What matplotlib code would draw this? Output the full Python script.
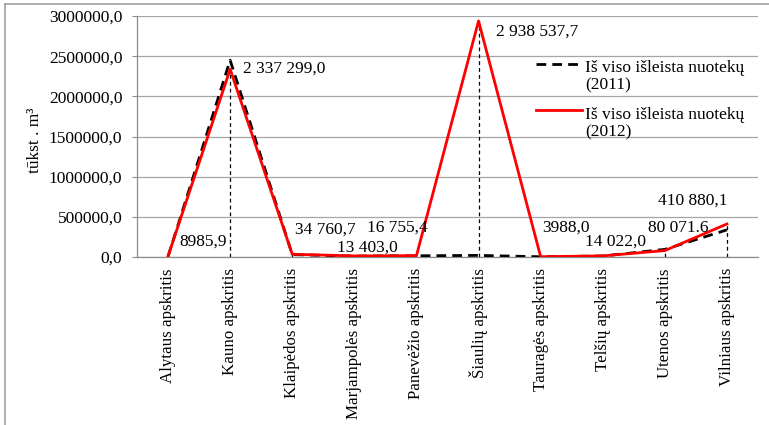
import matplotlib
matplotlib.use("Agg")
import matplotlib.pyplot as plt
from matplotlib.lines import Line2D
from matplotlib.ticker import FuncFormatter

plt.rcParams['font.family'] = ['Liberation Serif', 'DejaVu Serif']

apskritys = ['Alytaus apskritis', 'Kauno apskritis', 'Klaipėdos apskritis',
             'Marjampolės apskritis', 'Panevėžio apskritis', 'Šiaulių apskritis',
             'Tauragės apskritis', 'Telšių apskritis', 'Utenos apskritis',
             'Vilniaus apskritis']

nuotekos_2011 = [7000.0, 2450000.0, 30000.0, 11000.0, 15000.0, 20000.0,
                 3000.0, 12000.0, 95000.0, 338000.0]
nuotekos_2012 = [8985.9, 2337299.0, 34760.7, 13403.0, 16755.4, 2938537.7,
                 3988.0, 14022.0, 80071.6, 410880.1]
zymes_2012 = ['8985,9', '2 337 299,0', '34 760,7', '13 403,0', '16 755,4',
              '2 938 537,7', '3988,0', '14 022,0', '80 071.6', '410 880,1']

# postūmiai (pikseliais) reikšmių užrašams
zymiu_poslinkiai = [(11, 15, 'left'), (13, 1, 'left'), (33, 25, 'center'),
                    (13, 8, 'center'), (-19, 28, 'center'), (17, -11, 'left'),
                    (25, 29, 'center'), (13, 14, 'center'), (13, 23, 'center'),
                    (-34, 23, 'center')]

W, H = 769, 425
fig = plt.figure(figsize=(W / 100, H / 100), dpi=100)
ax = fig.add_axes([137 / W, 1 - 257 / H, (758 - 137) / W, (257 - 16) / H])

x = list(range(len(apskritys)))
fs = 12.5

# krintančios linijos nuo didžiausios reikšmės iki ašies
virsus = [max(a, b) for a, b in zip(nuotekos_2011, nuotekos_2012)]
ax.vlines(x, 0, virsus, colors='black', linestyles=(0, (3, 2.5)), linewidth=0.9, zorder=2)

ax.plot(x, nuotekos_2011, color='black', linestyle=(0, (3.5, 2.2)), linewidth=2.0, zorder=3)
ax.plot(x, nuotekos_2012, color='#ff0000', linewidth=2.0, zorder=4)

for xi, v, t, (dx, dy, ha) in zip(x, nuotekos_2012, zymes_2012, zymiu_poslinkiai):
    ax.annotate(t, (xi, v), xytext=(dx, dy), textcoords='offset pixels',
                ha=ha, va='center', fontsize=fs, zorder=5)

ax.set_xlim(-0.5, len(apskritys) - 0.5)
ax.set_ylim(0, 3000000)
ax.set_yticks(range(0, 3000001, 500000))
ax.yaxis.set_major_formatter(FuncFormatter(lambda v, p: f'{v:.1f}'.replace('.', ',')))
ax.set_xticks(x)
ax.set_xticklabels(apskritys, rotation=90, fontsize=12.2)
ax.tick_params(axis='x', length=0, pad=8)
ax.tick_params(axis='y', length=3.6, width=0.8, color='#8c8c8c', pad=7, labelsize=fs)
ax.grid(axis='y', color='#a6a6a6', linewidth=0.9)
ax.set_axisbelow(True)
for s in ['top', 'right']:
    ax.spines[s].set_visible(False)
for s in ['left', 'bottom']:
    ax.spines[s].set_color('#8c8c8c')
    ax.spines[s].set_linewidth(0.9)

fig.text(35 / W, 1 - 140 / H, 'tūkst . m³', rotation=90, ha='center', va='center', fontsize=fs)

# legenda
def fx(px):
    return px / W


def fy(py):
    return 1 - py / H


legenda = [('Iš viso išleista nuotekų\n(2011)', 'black', (0, (3.5, 2.2)), 64, 76.5),
           ('Iš viso išleista nuotekų\n(2012)', '#ff0000', '-', 110, 123.5)]
for txt, col, ls, py, ty in legenda:
    fig.add_artist(Line2D([fx(536), fx(582)], [fy(py), fy(py)], color=col,
                          linestyle=ls, linewidth=2.0, transform=fig.transFigure))
    fig.text(fx(585), fy(ty), txt, ha='left', va='center', fontsize=fs,
             linespacing=1.15)

# rėmelis aplink diagramą
fig.add_artist(Line2D([fx(5), fx(5)], [fy(4), 0], color='#a0a0a0', linewidth=1.2,
                      transform=fig.transFigure))
fig.add_artist(Line2D([fx(5), 1], [fy(4), fy(4)], color='#a0a0a0', linewidth=1.2,
                      transform=fig.transFigure))

fig.savefig('out.png', dpi=100)
